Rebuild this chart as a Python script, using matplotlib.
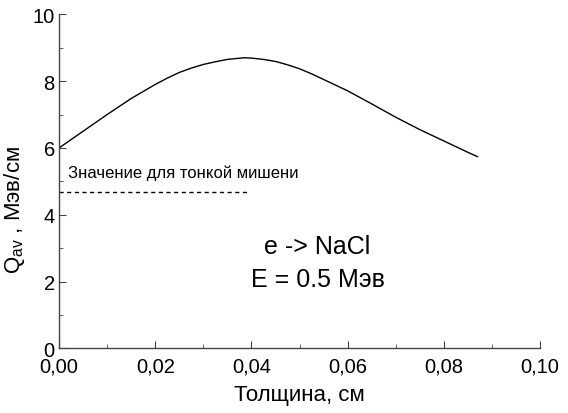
import numpy as np
import matplotlib.pyplot as plt
from matplotlib.ticker import MultipleLocator, FuncFormatter

plt.rcParams['font.family'] = ['Liberation Sans', 'DejaVu Sans']
plt.rcParams['mathtext.fontset'] = 'custom'
plt.rcParams['mathtext.rm'] = 'Liberation Sans'

# thickness, cm
thickness = [0.0, 0.005, 0.01, 0.015, 0.02, 0.0225, 0.025, 0.0275, 0.03, 0.0325,
             0.035, 0.0385, 0.04, 0.0425, 0.045, 0.0475, 0.05, 0.0525, 0.055,
             0.0575, 0.06, 0.065, 0.07, 0.075, 0.08, 0.085, 0.087]
# average energy loss, MeV/cm
q_av = [6.0, 6.5, 7.0, 7.48, 7.9, 8.09, 8.26, 8.39, 8.5, 8.58,
        8.65, 8.70, 8.69, 8.65, 8.59, 8.49, 8.37, 8.22, 8.05,
        7.88, 7.71, 7.32, 6.92, 6.55, 6.21, 5.87, 5.74]
thin_x = [0.0, 0.039]
thin_y = [4.67, 4.67]


def comma(v, pos):
    return ('%.2f' % v).replace('.', ',')


fig = plt.figure(figsize=(5.68, 4.14), dpi=100)
ax = fig.add_axes([0.1039, 0.156, 0.8468, 0.807])

ax.plot(thickness, q_av, color='black', lw=1.0)
ax.plot(thin_x, thin_y, color='black', lw=1.0, linestyle=(0, (3, 2.5)))

ax.text(0.0019, 5.28, 'Значение для тонкой мишени', fontsize=12, va='center')
ax.text(0.0537, 3.07, 'e -> NaCl', fontsize=18, ha='center', va='center')
ax.text(0.0538, 2.08, 'E = 0.5 Мэв', fontsize=18, ha='center', va='center')

ax.set_xlim(0, 0.10)
ax.set_ylim(0, 10)
ax.xaxis.set_major_locator(MultipleLocator(0.02))
ax.xaxis.set_minor_locator(MultipleLocator(0.01))
ax.yaxis.set_major_locator(MultipleLocator(2))
ax.yaxis.set_minor_locator(MultipleLocator(1))
ax.xaxis.set_major_formatter(FuncFormatter(comma))

for s in ['top', 'right']:
    ax.spines[s].set_visible(False)
for s in ['left', 'bottom']:
    ax.spines[s].set_color('#444444')
    ax.spines[s].set_linewidth(1.0)

ax.tick_params(which='both', direction='in', color='#444444', labelsize=14.5)
ax.tick_params(which='major', length=5)
ax.tick_params(which='minor', length=3)
ax.tick_params(axis='x', pad=6)
ax.tick_params(axis='y', pad=3)

ax.set_xlabel('Толщина, см', fontsize=16, labelpad=6)
ax.set_ylabel('Q$_{\\mathregular{av}}$ , Мэв/см', fontsize=16)
ax.yaxis.set_label_coords(-0.067, 0.417)

plt.savefig('out.png', dpi=100)
